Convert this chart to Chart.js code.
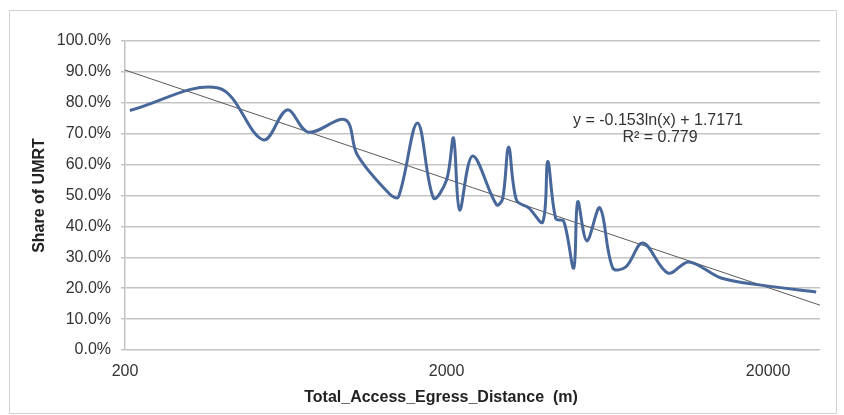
<!DOCTYPE html>
<html>
<head>
<meta charset="utf-8">
<script src="https://cdn.jsdelivr.net/npm/chart.js@4"></script>
<style>
  html, body { margin: 0; padding: 0; background: #fff; }
  #wrap { position: relative; width: 844px; height: 415px; }
  #frame {
    position: absolute; left: 9px; top: 10px; width: 826px; height: 402px;
    border: 1px solid #d4d4d4; pointer-events: none;
  }
</style>
</head>
<body>
<div id="wrap">
  <canvas id="chart" width="844" height="415"></canvas>
  <div id="frame"></div>
</div>
<script>
/* values */
const distances = [207, 390, 538, 639, 743, 969, 1056, 1330, 1417, 1624, 1822, 2000, 2102, 2196, 2410,
  2862, 2989, 3120, 3300, 3602, 3982, 4128, 4372, 4628, 4972, 5118, 5460, 5996, 6578, 7222,
  8158, 9762, 11350, 14276, 19020, 28220];
const shares = [77.5, 84.8, 68.0, 77.7, 70.5, 74.5, 63.1, 50.5, 49.5, 73.5, 49.2, 55.0, 68.6, 45.3, 62.8,
  47.0, 49.0, 65.7, 48.5, 46.0, 41.4, 61.0, 42.5, 41.7, 26.5, 48.0, 35.3, 46.0, 26.5, 26.9,
  34.6, 24.9, 28.5, 23.3, 21.0, 18.8];

// log trendline ends (y = -0.153ln(x) + 1.7171)
const trendX = [200, 29000];
const trendY = [90.6, 14.5];

const xTicks = [200, 2000, 20000];
const equationText = "y = -0.153ln(x) + 1.7171";
const r2Text = "R² = 0.779";
const xTitle = "Total_Access_Egress_Distance  (m)";
const yTitle = "Share of UMRT";

const FONT = "'Liberation Sans', Arial, sans-serif";

// text not tied to an axis
const labelsPlugin = {
  id: "labels",
  afterDraw(chart) {
    const ctx = chart.ctx;
    ctx.save();
    ctx.fillStyle = "#333";
    ctx.textAlign = "center";
    ctx.textBaseline = "middle";
    ctx.font = "16px " + FONT;
    ctx.fillText(equationText, 658, 121);
    ctx.fillText(r2Text, 660, 138);
    ctx.font = "bold 16px " + FONT;
    ctx.fillStyle = "#222";
    ctx.fillText(xTitle, 441, 398);
    ctx.restore();
  }
};

new Chart(document.getElementById("chart"), {
  type: "scatter",
  data: {
    datasets: [
      {
        label: "Share",
        data: distances.map((d, i) => ({ x: d, y: shares[i] })),
        showLine: true,
        borderColor: "#48679a",
        borderWidth: 3,
        pointRadius: 0,
        tension: 0.35,
        fill: false,
      },
      {
        label: "Trend",
        data: trendX.map((d, i) => ({ x: d, y: trendY[i] })),
        showLine: true,
        borderColor: "#5a5a5a",
        borderWidth: 1,
        pointRadius: 0,
        fill: false,
      },
    ],
  },
  plugins: [labelsPlugin],
  options: {
    responsive: false,
    animation: false,
    layout: { padding: { left: 0, top: 41, right: 24, bottom: 0 } },
    plugins: { legend: { display: false }, tooltip: { enabled: false } },
    scales: {
      x: {
        type: "logarithmic",
        min: 200,
        max: 29000,
        afterBuildTicks: (scale) => { scale.ticks = xTicks.map((v) => ({ value: v })); },
        afterFit: (scale) => { scale.height = 65; },
        ticks: {
          color: "#333",
          font: { family: FONT, size: 16 },
          padding: 4,
          maxRotation: 0,
          callback: (v) => String(v),
        },
        grid: { display: false },
        border: { display: false },
      },
      y: {
        min: 0,
        max: 100,
        afterFit: (scale) => { scale.width = 125; },
        ticks: {
          stepSize: 10,
          color: "#333",
          font: { family: FONT, size: 16 },
          padding: 10,
          callback: (v) => v.toFixed(1) + "%",
        },
        grid: { color: "#c4c4c4", lineWidth: 1.5, tickLength: 4 },
        border: { color: "#c4c4c4", width: 1.5 },
        title: {
          display: true,
          text: yTitle,
          color: "#222",
          font: { family: FONT, size: 16, weight: "bold" },
          padding: { top: 30, bottom: 0 },
        },
      },
    },
  },
});
</script>
</body>
</html>
